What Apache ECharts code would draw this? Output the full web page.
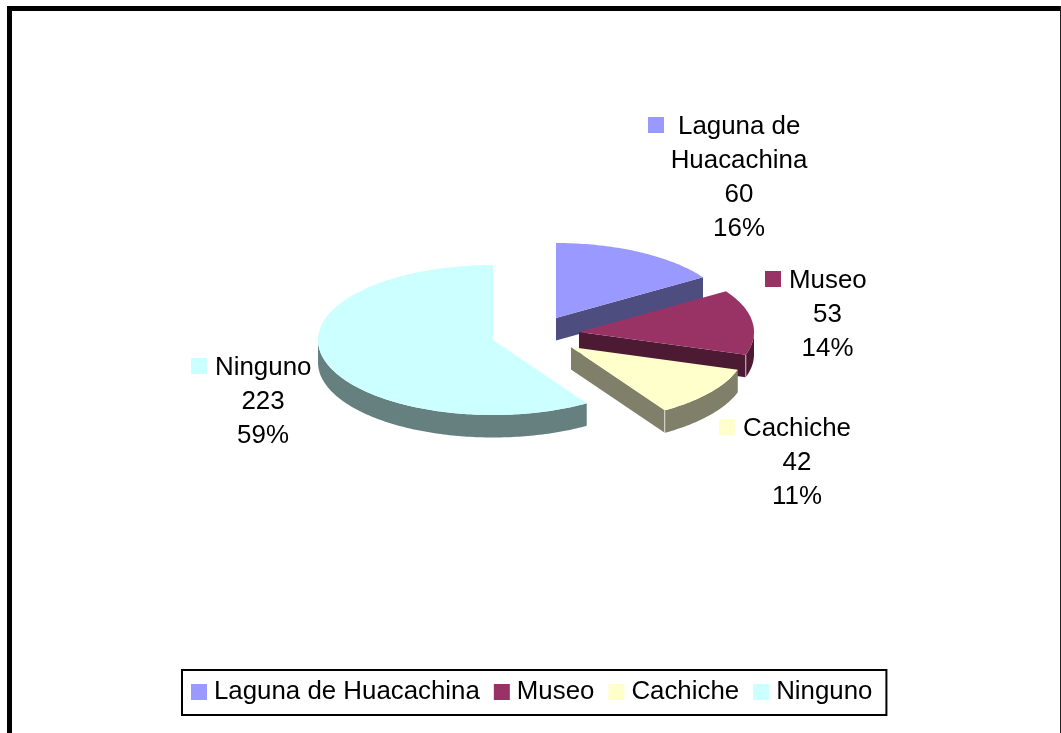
<!DOCTYPE html>
<html><head><meta charset="utf-8">
<style>html,body{margin:0;padding:0;background:#fff;overflow:hidden}#c{width:1061px;height:733px}</style>
<script src="https://cdn.jsdelivr.net/npm/echarts@6/dist/echarts.min.js"></script>
</head><body><div id="c"></div>
<script>
const categories = ['Laguna de Huacachina', 'Museo', 'Cachiche', 'Ninguno'];
const values = [60, 53, 42, 223];
const topColors = ['#9999FF', '#993366', '#FFFFCC', '#CCFFFF'];
const sideColors = ['#4D4D80', '#4D1A33', '#80806A', '#668080'];
// Exploded slice apex positions on the page
const apexes = [[556, 318], [579, 332], [571, 347], [493, 340]];
const RX = 175, RY = 75, DEPTH = 22.5;
// Label layout: name lines, key box x, first-line x, centre x, first line middle y
const labelNames = [['Laguna de', 'Huacachina'], ['Museo'], ['Cachiche'], ['Ninguno']];
const labelLayout = [
  {keyX: 648, firstX: 678, cx: 739, y: 125},
  {keyX: 765, firstX: 789, cx: 827.5, y: 279},
  {keyX: 719, firstX: 743, cx: 797, y: 427},
  {keyX: 191, firstX: 215, cx: 263, y: 366}
];
const drawOrder = [3, 0, 1, 2];
const FONT = '"Liberation Sans", Arial, sans-serif';
const FS = 25.9, LEGEND_FS = 25.85, LH = 34, TEXT_DY = 2;
const total = values.reduce((a, b) => a + b, 0);
const starts = [];
values.reduce((acc, v, i) => { starts[i] = acc; return acc + v / total * 360; }, 0);

function pt(c, deg, dy) {
  const r = deg * Math.PI / 180;
  return [c[0] + RX * Math.sin(r), c[1] - RY * Math.cos(r) + (dy || 0)];
}
function arc(c, a0, a1, dy) {
  const out = [], n = Math.max(2, Math.ceil(Math.abs(a1 - a0)));
  for (let k = 0; k <= n; k++) out.push(pt(c, a0 + (a1 - a0) * k / n, dy));
  return out;
}
function renderSlice(i) {
  return function (params, api) {
    const v = api.value(0);
    const a0 = starts[i], a1 = a0 + v / total * 360, c = apexes[i];
    const kids = [];
    const side = {fill: sideColors[i]};
    if (Math.sin(a1 * Math.PI / 180) > 0.01) {
      const e = pt(c, a1);
      kids.push({type: 'polygon', shape: {points: [c, e, [e[0], e[1] + DEPTH], [c[0], c[1] + DEPTH]]}, style: side});
    }
    const r0 = Math.max(a0, 90), r1 = Math.min(a1, 270);
    if (r1 > r0) {
      const pts = arc(c, r0, r1, 0).concat(arc(c, r1, r0, DEPTH));
      kids.push({type: 'polygon', shape: {points: pts}, style: side});
      const e = pt(c, a1);
      if (a1 < 180) kids.push({type: 'line', shape: {x1: e[0], y1: e[1], x2: e[0], y2: e[1] + DEPTH}, style: {stroke: 'rgba(255,255,255,0.7)', lineWidth: 1}});
    }
    kids.push({type: 'polygon', shape: {points: [c].concat(arc(c, a0, a1, 0))}, style: {fill: topColors[i]}});
    const L = labelLayout[i], names = labelNames[i];
    const lines = names.slice(1).concat([String(v), Math.round(v / total * 100) + '%']);
    const ts = {fontFamily: FONT, fontSize: FS, fill: '#000', verticalAlign: 'middle'};
    kids.push({type: 'rect', shape: {x: L.keyX, y: L.y - 8, width: 16, height: 16}, style: {fill: topColors[i]}});
    kids.push({type: 'text', style: Object.assign({x: L.firstX, y: L.y + TEXT_DY, text: names[0], align: 'left'}, ts)});
    lines.forEach((t, k) => kids.push({type: 'text', style: Object.assign({x: L.cx, y: L.y + TEXT_DY + LH * (k + 1), text: t, align: 'center'}, ts)}));
    return {type: 'group', children: kids};
  };
}
const chart = echarts.init(document.getElementById('c'), null, {renderer: 'canvas'});
chart.setOption({
  animation: false,
  backgroundColor: '#fff',
  graphic: [
    {type: 'rect', shape: {x: 7, y: 6, width: 5, height: 727}, style: {fill: '#000'}},
    {type: 'rect', shape: {x: 7, y: 6, width: 1054, height: 5}, style: {fill: '#000'}},
    {type: 'rect', shape: {x: 1060, y: 6, width: 1, height: 727}, style: {fill: '#222'}}
  ],
  legend: {
    data: categories,
    orient: 'horizontal',
    left: 182, top: 670,
    padding: [9, 14, 10, 9],
    itemGap: 14, itemWidth: 16, itemHeight: 16,
    icon: 'rect',
    selectedMode: false,
    backgroundColor: '#fff',
    borderColor: '#000', borderWidth: 2, borderRadius: 0,
    textStyle: {fontFamily: FONT, fontSize: LEGEND_FS, color: '#000', padding: [4, 0, 0, 2]}
  },
  series: drawOrder.map(i => ({
    type: 'custom',
    name: categories[i],
    coordinateSystem: 'none',
    silent: true,
    itemStyle: {color: topColors[i]},
    data: [[values[i]]],
    renderItem: renderSlice(i)
  }))
});
</script></body></html>
